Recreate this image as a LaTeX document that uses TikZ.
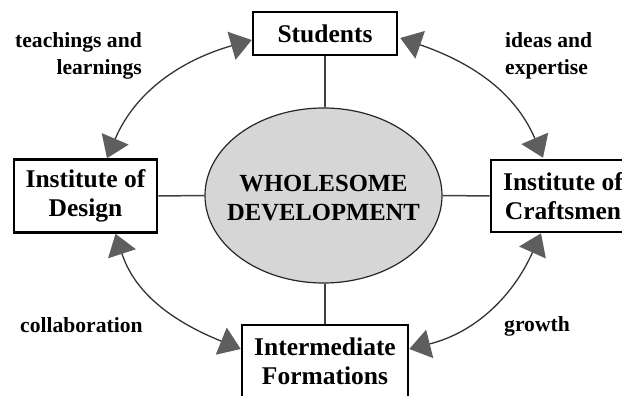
\documentclass[tikz,border=0pt]{standalone}
\usepackage{fontspec}
\setmainfont{Liberation Serif}
\usetikzlibrary{arrows.meta,shapes.geometric}
\definecolor{linecol}{HTML}{404040}
\definecolor{curvecol}{HTML}{333333}
\definecolor{headcol}{HTML}{5E5E5E}
\definecolor{ellfill}{HTML}{D6D6D6}
\tikzset{
  box/.style={draw=black, line width=2.6pt, fill=white, inner sep=0pt, align=center,
    font=\bfseries\fontsize{25.5}{29}\selectfont},
  hub/.style={ellipse, draw=black!85, line width=1.2pt, fill=ellfill, inner sep=0pt,
    minimum width=237pt, minimum height=175pt},
  hubtext/.style={inner sep=0pt, align=center, font=\bfseries\fontsize{24.6}{29}\selectfont},
  link/.style={draw=linecol, line width=1.5pt},
  dbl/.style={draw=curvecol, line width=1.3pt,
    arrows={Triangle[length=21pt,width=29pt,color=headcol]-Triangle[length=21pt,width=29pt,color=headcol]}},
  lbl/.style={inner sep=0pt, font=\bfseries\fontsize{21.6}{27}\selectfont}
}
\begin{document}
\begin{tikzpicture}[x=1pt,y=1pt]
\useasboundingbox (0,0) rectangle (622,396);
\clip (0,0) rectangle (622,396);
\node[hub] (hub) at (323.5,200.5) {};
\node[hubtext] (hubt) at (323.5,198) {WHOLESOME\\DEVELOPMENT};
\node[box, minimum width=144pt, minimum height=43pt] (stu) at (325,362.5) {Students};
\node[box, minimum width=143pt, minimum height=73pt] (des) at (85.5,200) {Institute of\\Design};
\node[box, minimum width=144pt, minimum height=72pt] (cra) at (563,200) {Institute of\\Craftsmen};
\node[box, minimum width=166pt, minimum height=72pt] (int) at (325,35) {Intermediate\\Formations};
\draw[link] (stu.south) -- (stu.south |- hub.north);
\draw[link] (int.north) -- (int.north |- hub.south);
\draw[link] (des.east) -- (hub.west);
\draw[link] (cra.west) -- (hub.east);
\draw[dbl] ([yshift=-6.5pt]stu.west) to[out=196,in=67] ([xshift=21.5pt]des.north);
\draw[dbl] ([xshift=2pt,yshift=-4.5pt]stu.east) to[out=-19,in=113] ([xshift=-20pt,yshift=1pt]cra.north);
\draw[dbl] ([xshift=30pt]des.south) to[out=-72,in=158] ([yshift=12pt]int.west);
\draw[dbl] ([xshift=-22pt]cra.south) to[out=246,in=14] ([yshift=12pt]int.east);
\node[lbl, anchor=east, align=right] (l1) at (142,340) {teachings and\\learnings};
\node[lbl, anchor=west, align=left] (l2) at (505,340) {ideas and\\expertise};
\node[lbl, anchor=west] (l3) at (20,71) {collaboration};
\node[lbl, anchor=west] (l4) at (504,70) {growth};
\end{tikzpicture}
\end{document}
